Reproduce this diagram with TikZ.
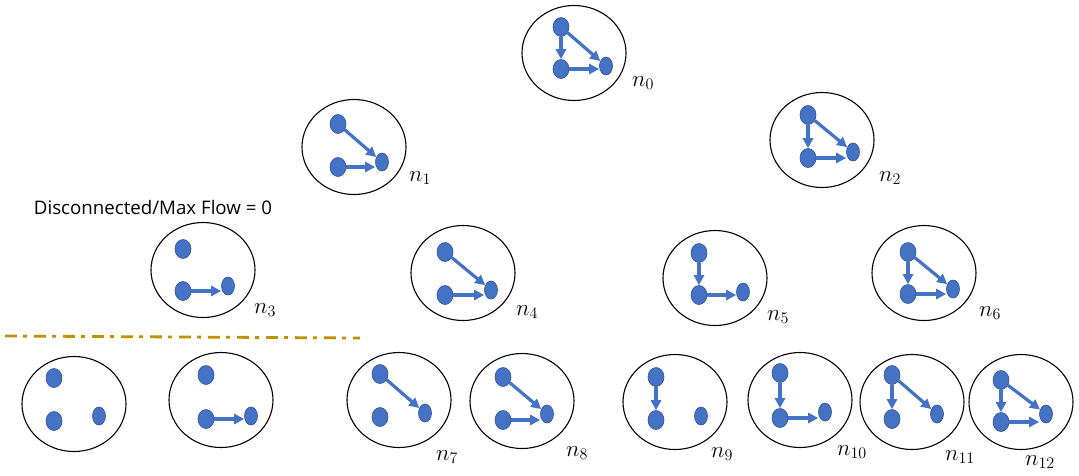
\documentclass[tikz,border=0pt]{standalone}
\usepackage{fix-cm}
\usepackage{fontspec}
\newfontfamily\notefont{Open Sans}
\usepackage{tikz}
\usetikzlibrary{arrows.meta, positioning, shapes.geometric}
\definecolor{vblue}{HTML}{4472C4}
\definecolor{vedge}{HTML}{2F528F}
\definecolor{cutgold}{HTML}{BF9000}

\begin{document}
\begin{tikzpicture}[x=1pt, y=-1pt,
    state/.style={draw, ellipse, line width=1.1pt, minimum width=104pt, minimum height=95pt, inner sep=0pt},
    vtx/.style={ellipse, fill=vblue, draw=vedge, line width=0.6pt, minimum width=16pt, minimum height=19pt, inner sep=0pt},
    vtxs/.style={vtx, minimum width=13pt, minimum height=18pt},
    flow/.style={vblue, line width=3.2pt, -{Triangle[length=10pt, width=10pt]}},
    lab/.style={font=\fontsize{23}{27}\selectfont},
    cutline/.style={cutgold, line width=2.8pt, dash pattern=on 12pt off 6pt on 4pt off 7pt}]
    \useasboundingbox (0,0) rectangle (1079,475);

    % Zustaende: Ellipse, Knoten oben/unten/rechts
    \foreach \id/\cx/\cy/\tx/\ty/\bx/\by/\rx/\ry in {
        0/574/53/561/27/561/69/606/66,
        1/354/147/338/124/338/167/382/162,
        2/822/140/808/115/808/158/853/152,
        3/203/270/183/249/183/291/228/286,
        4/463/273/445/252/445/295/491/290,
        5/715/278/699/253/699/295/743/292,
        6/924/273/908/252/908/294/953/289,
        a/74/404/54/378/54/421/99/416,
        b/221/400/206/375/206/419/251/416,
        7/399/400/380/374/380/417/425/413,
        8/522/401/503/377/503/420/547/414,
        9/675/402/656/377/656/420/701/416,
        10/800/400/780/373/780/418/825/412,
        11/912/402/892/375/892/419/937/414,
        12/1021/402/1001/380/1001/422/1046/414} {
        \node[state] (s\id) at (\cx,\cy) {};
        \node[vtx] (s\id t) at (\tx,\ty) {};
        \node[vtx] (s\id b) at (\bx,\by) {};
        \node[vtxs] (s\id r) at (\rx,\ry) {};
    }

    % Labels
    \foreach \id/\lx/\ly in {0/643/83, 1/420/178, 2/890/178, 3/265/310, 4/527/312,
        5/778/317, 6/990/313, 7/447/457, 8/577/453, 9/722/454, 10/852/452,
        11/960/457, 12/1040/462} {
        \node[lab] (l\id) at (\lx,\ly) {$n_{\id}$};
    }

    % Kanten
    \foreach \id in {0,2,5,6,9,10,11,12} \draw[flow] (s\id t) -- (s\id b);
    \foreach \id in {0,1,2,4,6,7,8,11,12} \draw[flow] (s\id t) -- (s\id r);
    \foreach \id in {0,1,2,3,4,5,6,b,8,10,12} \draw[flow] (s\id b.east) -- (s\id b -| s\id r.west);

    % Grenze
    \node[font=\notefont\fontsize{18.7}{22}\selectfont] (note) at (153,207) {Disconnected/Max Flow = 0};
    \draw[cutline] (5,336) -- (360,338);
\end{tikzpicture}
\end{document}
